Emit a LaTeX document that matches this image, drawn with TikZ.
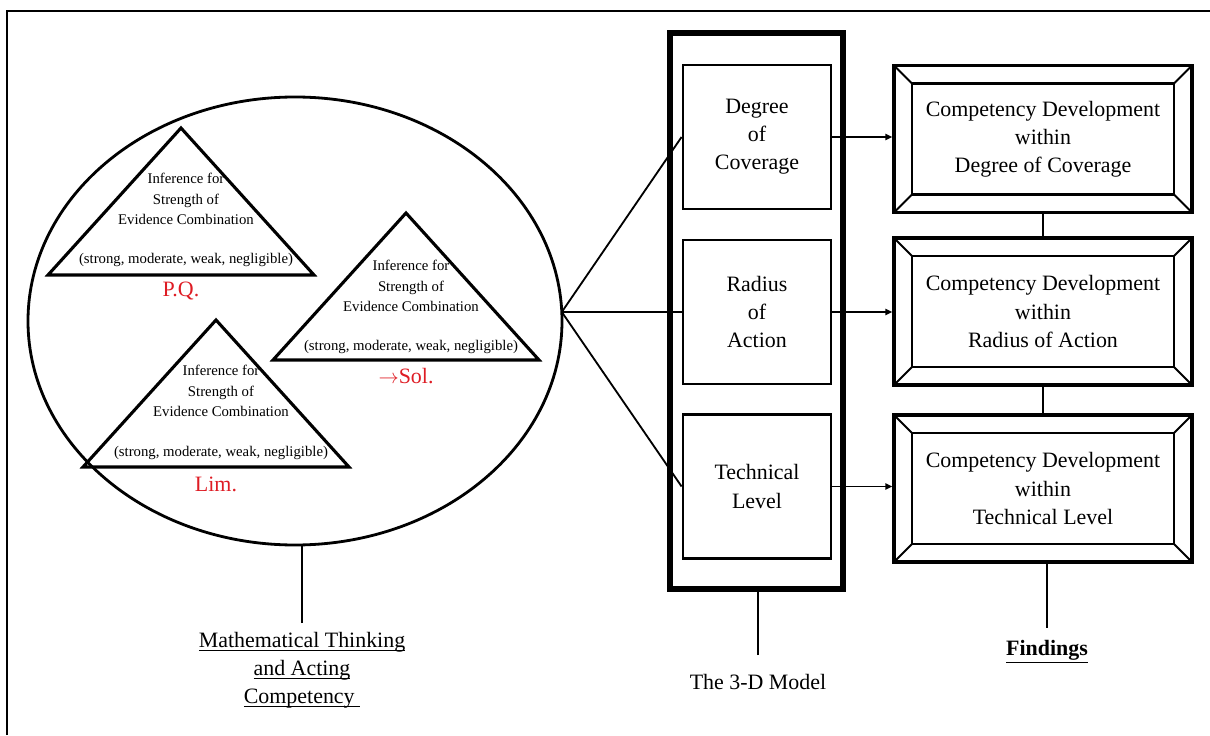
\documentclass[tikz,border=0pt]{standalone}
\usepackage{fontspec}
\setmainfont{Liberation Serif}
\usepackage{tikz}
\usetikzlibrary{shapes.geometric,arrows.meta,positioning}
\definecolor{labred}{RGB}{222,28,36}
\newcommand{\bigtxt}{\fontsize{15.6}{20}\selectfont}
\newcommand{\smalltxt}{\fontsize{10.5}{14.6}\selectfont}
\newcommand{\undl}[1]{\setbox0\hbox{#1}\rlap{\vrule height -1.9pt depth 2.8pt width \wd0}\box0}

\begin{document}
\begin{tikzpicture}[
		frameline/.style={line width=1.4pt},
		tri/.style={line width=2.2pt, line join=miter},
		tritext/.style={align=center, font=\smalltxt, inner sep=0pt},
		redlbl/.style={text=labred, font=\bigtxt, inner sep=0pt},
		conn/.style={line width=1.3pt},
		modelbox/.style={draw, line width=2pt, minimum width=3.7cm, minimum height=3.6cm, align=center, font=\bigtxt},
		bevelbox/.style={draw, line width=2.4pt, minimum width=7.45cm, minimum height=3.675cm, align=center, font=\bigtxt,
			path picture={
				\draw[line width=2pt] ([shift={(0.45,0.45)}]path picture bounding box.south west) rectangle ([shift={(-0.45,-0.45)}]path picture bounding box.north east);
				\draw[line width=1.3pt] (path picture bounding box.south west) -- ([shift={(0.45,0.45)}]path picture bounding box.south west)
					(path picture bounding box.north west) -- ([shift={(0.45,-0.45)}]path picture bounding box.north west)
					(path picture bounding box.north east) -- ([shift={(-0.45,-0.45)}]path picture bounding box.north east)
					(path picture bounding box.south east) -- ([shift={(-0.45,0.45)}]path picture bounding box.south east);
			}}
	]
		\useasboundingbox (0,0) rectangle (30.25,18.375);
		\draw[frameline] (0.175,0) -- (0.175,18.1) -- (30.25,18.1);

		% left part
		\node[ellipse, draw, line width=2pt, minimum width=13.35cm, minimum height=11.2cm, inner sep=0pt] (el) at (7.375,10.35) {};
		\coordinate (hub) at (14.045,10.575);

		\draw[tri] (4.525,15.175) -- ++(3.325,-3.675) -- ++(-6.65,0) -- cycle;
		\node[tritext] (pqtxt) at (4.65,13.4) {Inference for\\Strength of\\Evidence Combination};
		\node[tritext] (pqscale) at (4.65,11.875) {(strong, moderate, weak, negligible)};
		\node[redlbl] (pq) at (4.525,11.1) {P.Q.};

		\draw[tri] (10.15,13.05) -- ++(3.325,-3.675) -- ++(-6.65,0) -- cycle;
		\node[tritext] (soltxt) at (10.275,11.225) {Inference for\\Strength of\\Evidence Combination};
		\node[tritext] (solscale) at (10.275,9.7) {(strong, moderate, weak, negligible)};
		\node[redlbl] (sol) at (10.15,8.975) {$\rightarrow$Sol.};

		\draw[tri] (5.4,10.375) -- ++(3.325,-3.675) -- ++(-6.65,0) -- cycle;
		\node[tritext] (limtxt) at (5.525,8.6) {Inference for\\Strength of\\Evidence Combination};
		\node[tritext] (limscale) at (5.525,7.05) {(strong, moderate, weak, negligible)};
		\node[redlbl] (lim) at (5.4,6.275) {Lim.};

		% the 3-D model
		\node[draw, line width=3.8pt, minimum width=4.325cm, minimum height=13.9cm, inner sep=0pt] (mdl) at (18.9125,10.6) {};
		\node[modelbox] (mb1) at (18.925,14.95) {Degree\\of\\Coverage};
		\node[modelbox] (mb2) at (18.925,10.575) {Radius\\of\\Action};
		\node[modelbox] (mb3) at (18.925,6.2125) {Technical\\Level};

		% findings
		\node[bevelbox] (fd1) at (26.075,14.9) {Competency Development\\within\\Degree of Coverage};
		\node[bevelbox] (fd2) at (26.075,10.5875) {Competency Development\\within\\Radius of Action};
		\node[bevelbox] (fd3) at (26.075,6.1625) {Competency Development\\within\\Technical Level};

		\draw[conn] (hub) -- (mb1.west);
		\draw[conn] (hub) -- (mb2.west);
		\draw[conn] (hub) -- (mb3.west);

		\draw[conn, -{Triangle[length=5pt,width=4.5pt]}] (mb1.east) -- (mb1.east -| fd1.west);
		\draw[conn, -{Triangle[length=5pt,width=4.5pt]}] (mb2.east) -- (mb2.east -| fd2.west);
		\draw[conn, -{Triangle[length=5pt,width=4.5pt]}] (mb3.east) -- (mb3.east -| fd3.west);

		\draw[conn] (fd1.south) -- (fd2.north);
		\draw[conn] (fd2.south) -- (fd3.north);

		% bottom labels
		\node[align=center, font=\bigtxt, inner xsep=2pt, inner ysep=6pt] (mt) at (7.55,1.625) {\undl{Mathematical Thinking}\\\undl{and Acting}\\\undl{Competency\ }};
		\node[font=\bigtxt, inner ysep=13pt] (tdm) at (18.95,1.3375) {The 3-D Model};
		\node[font=\bigtxt\bfseries, inner ysep=9pt] (fnd) at (26.175,2.075) {\underline{Findings}};

		\draw[conn] (mt.north) -- (mt.north |- el.south);
		\draw[conn] (tdm.north) -- (tdm.north |- mdl.south);
		\draw[conn] (fnd.north) -- (fnd.north |- fd3.south);
	\end{tikzpicture}
\end{document}
